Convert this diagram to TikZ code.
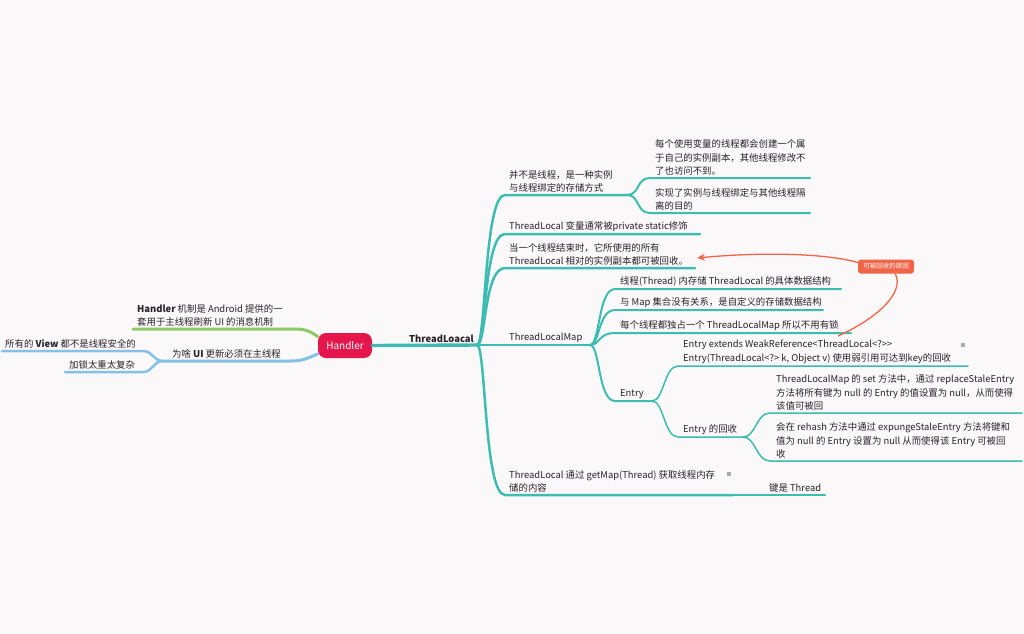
\documentclass[tikz,border=0pt]{standalone}
\usepackage{fontspec}
\setmainfont{Noto Sans CJK SC}
\usetikzlibrary{arrows.meta}
\definecolor{bg}{RGB}{251,248,249}
\definecolor{teal1}{RGB}{61,188,178}
\definecolor{grn}{RGB}{142,201,102}
\definecolor{blu}{RGB}{133,192,232}
\definecolor{hred}{RGB}{228,22,76}
\definecolor{ared}{RGB}{240,100,72}
\definecolor{txt}{RGB}{40,34,42}
\definecolor{icon}{RGB}{170,170,170}
\begin{document}
\begin{tikzpicture}[x=1pt,y=-1pt,
  lbl/.style={anchor=south west, inner sep=0pt, align=left, text=txt, font=\fontsize{9.4}{13.3}\selectfont},
  rootbox/.style={fill=hred, rounded corners=8pt, minimum width=54pt, minimum height=25pt, inner sep=0pt, text=white, font=\fontsize{10}{12}\selectfont},
  anno/.style={fill=ared, rounded corners=3pt, minimum width=56pt, minimum height=14pt, inner sep=0pt, text=white, font=\fontsize{6.5}{8}\selectfont},
  trunk/.style={draw=teal1, line width=3.4pt, line cap=round},
  lone/.style={draw=teal1, line width=2.5pt, line cap=round},
  ltwo/.style={draw=teal1, line width=2pt, line cap=round},
  lthree/.style={draw=teal1, line width=1.5pt, line cap=round},
  gline/.style={draw=grn, line width=3pt, line cap=round},
  bline/.style={draw=blu, line width=3pt, line cap=round},
  bline2/.style={draw=blu, line width=2.5pt, line cap=round},
  aline/.style={draw=ared, line width=1.3pt}
]
\fill[bg] (0,0) rectangle (1024,633);
\useasboundingbox (0,0) rectangle (1024,633);

% root
\node[rootbox] (handler) at (345,345.5) {Handler};
\coordinate (J) at (477,345);
\node[lbl, font=\fontsize{9.4}{12}\selectfont\bfseries] (tl) at (409,342.5) {ThreadLoacal};
\draw[trunk] (handler.east) -- (J);

% ---------- right side ----------
% B1
\coordinate (b1s) at (505,195); \coordinate (F1) at (627,195);
\node[lbl] (b1) at (509,192.5) {并不是线程，是一种实例\\与线程绑定的存储方式};
\draw[lone] (J) .. controls (486,345) and (484,195) .. (b1s) -- (F1);
\coordinate (b1as) at (650,178); \coordinate (b1ae) at (810,178);
\node[lbl] (b1a) at (655,175.5) {每个使用变量的线程都会创建一个属\\于自己的实例副本，其他线程修改不\\了也访问不到。};
\draw[ltwo] (F1) .. controls (640,195) and (636,178) .. (b1as) -- (b1ae);
\coordinate (b1bs) at (650,213); \coordinate (b1be) at (810,213);
\node[lbl] (b1b) at (655,210.5) {实现了实例与线程绑定与其他线程隔\\离的目的};
\draw[ltwo] (F1) .. controls (640,195) and (636,213) .. (b1bs) -- (b1be);

% B2
\coordinate (b2s) at (505,234); \coordinate (b2e) at (700,234);
\node[lbl] (b2) at (509,231.5) {ThreadLocal 变量通常被private static修饰};
\draw[lone] (J) .. controls (486,345) and (484,234) .. (b2s) -- (b2e);

% B3
\coordinate (b3s) at (505,268); \coordinate (b3e) at (695,268);
\node[lbl] (b3) at (509,265.5) {当一个线程结束时，它所使用的所有\\ThreadLocal 相对的实例副本都可被回收。};
\draw[lone] (J) .. controls (486,345) and (484,268) .. (b3s) -- (b3e);

% B4 ThreadLocalMap
\coordinate (F4) at (590,345);
\node[lbl] (b4) at (509,342.5) {ThreadLocalMap};
\draw[lone] (J) -- (F4);
\coordinate (b4as) at (615,289); \coordinate (b4ae) at (841,289);
\node[lbl] (b4a) at (620,286.5) {线程(Thread) 内存储 ThreadLocal 的具体数据结构};
\draw[ltwo] (F4) .. controls (600,345) and (598,289) .. (b4as) -- (b4ae);
\coordinate (b4bs) at (615,310); \coordinate (b4be) at (823,310);
\node[lbl] (b4b) at (620,307.5) {与 Map 集合没有关系，是自定义的存储数据结构};
\draw[ltwo] (F4) .. controls (600,345) and (598,310) .. (b4bs) -- (b4be);
\coordinate (b4cs) at (615,333); \coordinate (b4ce) at (851,333);
\node[lbl] (b4c) at (620,330.5) {每个线程都独占一个 ThreadLocalMap 所以不用有锁};
\draw[ltwo] (F4) .. controls (600,345) and (598,333) .. (b4cs) -- (b4ce);
\coordinate (b4ds) at (615,401); \coordinate (F4d) at (652,401);
\node[lbl] (b4d) at (620,398.5) {Entry};
\draw[ltwo] (F4) .. controls (600,345) and (598,401) .. (b4ds) -- (F4d);

% Entry children
\coordinate (e1s) at (678,366); \coordinate (e1e) at (968,366);
\node[lbl] (e1) at (683,363.5) {Entry extends WeakReference<ThreadLocal<?>{}>\\Entry(ThreadLocal<?> k, Object v) 使用弱引用可达到key的回收};
\draw[lthree] (F4d) .. controls (664,401) and (664,366) .. (e1s) -- (e1e);
\coordinate (e2s) at (678,437); \coordinate (F5) at (743,437);
\node[lbl] (e2) at (683,434.5) {Entry 的回收};
\draw[lthree] (F4d) .. controls (664,401) and (664,437) .. (e2s) -- (F5);
\coordinate (r1s) at (770,413); \coordinate (r1e) at (1022,413);
\node[lbl] (r1) at (776,410.5) {ThreadLocalMap 的 set 方法中，通过 replaceStaleEntry\\方法将所有键为 null 的 Entry 的值设置为 null，从而使得\\该值可被回};
\draw[lthree] (F5) .. controls (756,437) and (756,413) .. (r1s) -- (r1e);
\coordinate (r2s) at (770,461); \coordinate (r2e) at (1022,461);
\node[lbl] (r2) at (776,458.5) {会在 rehash 方法中通过 expungeStaleEntry 方法将键和\\值为 null 的 Entry 设置为 null 从而使得该 Entry 可被回\\收};
\draw[lthree] (F5) .. controls (756,437) and (756,461) .. (r2s) -- (r2e);

% B5
\coordinate (b5s) at (505,495); \coordinate (F6) at (733,495);
\node[lbl] (b5) at (509,492.5) {ThreadLocal 通过 getMap(Thread) 获取线程内存\\储的内容};
\draw[lone] (J) .. controls (486,345) and (484,495) .. (b5s) -- (F6);
\coordinate (b5ae) at (825,495);
\node[lbl] (b5a) at (769,492.5) {键是 Thread};
\draw[ltwo] (F6) -- (b5ae);

% note icons
\fill[icon] (961,342.5) rectangle (965,347);
\fill[icon] (727,471.5) rectangle (731,476);

% ---------- left side ----------
\coordinate (gs) at (295,329); \coordinate (ge) at (133,329);
\node[lbl] (g) at (137,326.5) {{\bfseries Handler} 机制是 Android 提供的一\\套用于主线程刷新 UI 的消息机制};
\draw[gline] (handler.162) .. controls (310,331) and (305,329) .. (gs) -- (ge);

\coordinate (bs) at (290,361); \coordinate (FB) at (163,361);
\node[lbl] (bq) at (172,358.5) {为啥 {\bfseries UI} 更新必须在主线程};
\draw[bline] (handler.197) .. controls (306,359) and (302,361) .. (bs) -- (FB);
\coordinate (v1s) at (143,351); \coordinate (v1e) at (2,351);
\node[lbl] (v1) at (5,348.5) {所有的 {\bfseries View} 都不是线程安全的};
\draw[bline2] (FB) .. controls (153,361) and (153,351) .. (v1s) -- (v1e);
\coordinate (v2s) at (143,372); \coordinate (v2e) at (65,372);
\node[lbl] (v2) at (69,369.5) {加锁太重太复杂};
\draw[bline2] (FB) .. controls (153,361) and (153,372) .. (v2s) -- (v2e);

% ---------- annotation ----------
\node[anno] (why) at (886,266.5) {可被回收的原因};
\coordinate (atip) at (697,258);
\coordinate (aend) at (838,336);
\draw[aline, -{Stealth[length=8pt,width=7pt]}] (why.172) .. controls (825,253) and (760,252) .. (atip);
\draw[aline] (why.-38) .. controls (905,292) and (878,318) .. (aend);
\end{tikzpicture}
\end{document}
